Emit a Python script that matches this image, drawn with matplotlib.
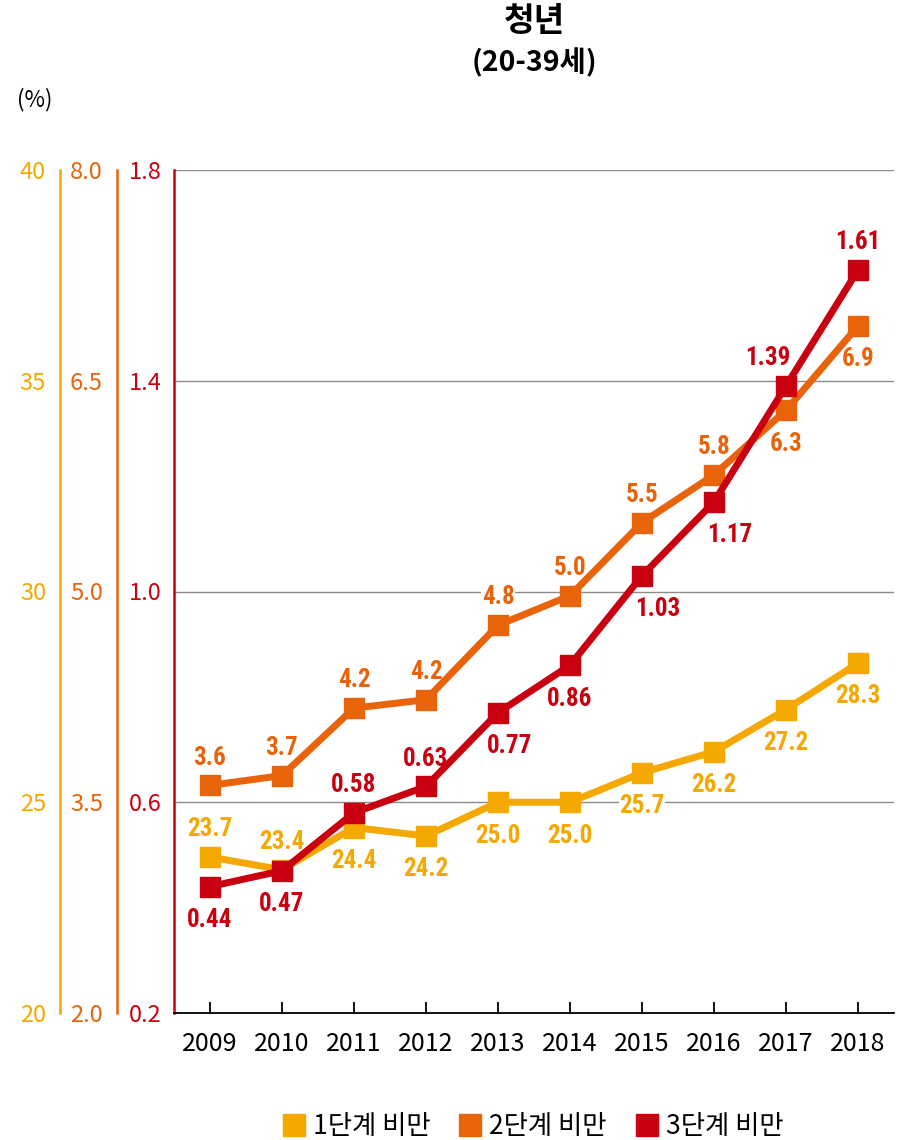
import matplotlib
matplotlib.use('Agg')
import matplotlib.pyplot as plt
from matplotlib.lines import Line2D
from matplotlib import font_manager

plt.rcParams['font.family'] = ['Noto Sans CJK KR', 'DejaVu Sans']

years = ['2009', '2010', '2011', '2012', '2013', '2014', '2015', '2016', '2017', '2018']
stage1 = [23.7, 23.4, 24.4, 24.2, 25.0, 25.0, 25.7, 26.2, 27.2, 28.3]
stage2 = [3.62, 3.69, 4.17, 4.23, 4.76, 4.97, 5.49, 5.83, 6.29, 6.89]
stage3 = [0.44, 0.47, 0.58, 0.63, 0.77, 0.86, 1.03, 1.17, 1.39, 1.61]
series_names = ['1단계 비만', '2단계 비만', '3단계 비만']
ticks1 = [20, 25, 30, 35, 40]
ticks2 = [2.0, 3.5, 5.0, 6.5, 8.0]
ticks3 = [0.2, 0.6, 1.0, 1.4, 1.8]

# label placement: +1 above, -1 below; horizontal nudges in points
pos1 = [1, 1, -1, -1, -1, -1, -1, -1, -1, -1]
pos2 = [1, 1, 1, 1, 1, 1, 1, 1, -1, -1]
pos3 = [-1, -1, 1, 1, -1, -1, -1, -1, 1, 1]
dx1 = [0] * 10
dx2 = [0] * 10
dx3 = [0, 0, 0, 0, 8.5, 0, 11, 11.5, -13.5, 0]

C1 = '#F5A800'
C2 = '#E8630A'
C3 = '#C8000F'

# pick a condensed bold font for the value labels if one is installed
cond_path = None
cands = []
for f in font_manager.fontManager.ttflist:
    n = (f.name + ' ' + f.fname).lower()
    if ('narrow' in n or 'condensed' in n) and (str(f.weight) in ('bold', '700') or 'bold' in f.fname.lower()):
        cands.append(f)
pref = ['liberation sans narrow', 'roboto condensed', 'dejavu sans', 'open sans']
cands.sort(key=lambda f: next((i for i, p in enumerate(pref) if p in f.name.lower()), 99))
if cands:
    cond_path = cands[0].fname

if cond_path:
    lab_font = dict(fontproperties=font_manager.FontProperties(fname=cond_path, size=18))
else:
    lab_font = dict(family=['DejaVu Sans'], fontstretch='condensed', fontweight='bold', fontsize=17)

fig = plt.figure(figsize=(8.99, 11.4), dpi=100)
ax = fig.add_axes([174/899, 127/1140, 720/899, 843/1140])
x = list(range(len(years)))

ax.set_xlim(-0.5, len(years) - 0.5)
ax.set_ylim(ticks3[0], ticks3[-1])
ax.set_yticks(ticks3)
ax.set_yticklabels([f'{t:.1f}' for t in ticks3])
ax.tick_params(axis='y', length=0, pad=9, labelsize=17, labelcolor=C3)
ax.set_xticks(x)
ax.set_xticklabels(years)
ax.tick_params(axis='x', direction='in', length=8, width=1.3, pad=13, color='black', labelsize=18)
ax.grid(axis='y', color='#8c8c8c', linewidth=1)
ax.set_axisbelow(True)
for s in ['top', 'right']:
    ax.spines[s].set_visible(False)
ax.spines['left'].set_color(C3)
ax.spines['left'].set_linewidth(1.8)
ax.spines['bottom'].set_color('black')
ax.spines['bottom'].set_linewidth(1.3)
ax.spines['bottom'].set_zorder(5)


def make_twin(lim, ticks, color, offset, fmt):
    t = ax.twinx()
    t.set_ylim(lim)
    t.yaxis.set_ticks_position('left')
    t.yaxis.set_label_position('left')
    for s in ['top', 'right', 'bottom']:
        t.spines[s].set_visible(False)
    if offset is None:
        t.spines['left'].set_visible(False)
        t.set_yticks([])
    else:
        t.set_yticks(ticks)
        t.set_yticklabels([fmt.format(v) for v in ticks])
        t.tick_params(axis='y', which='both', length=0, pad=10, labelsize=17,
                      labelcolor=color, left=True, labelleft=True, right=False, labelright=False)
        t.spines['left'].set_position(('axes', offset))
        t.spines['left'].set_color(color)
        t.spines['left'].set_linewidth(1.8)
    return t

ax1 = make_twin((20, 40), ticks1, C1, (60 - 174) / 720, '{:.0f}')
ax2 = make_twin((2.0, 8.0), ticks2, C2, (117 - 174) / 720, '{:.1f}')
ax3 = make_twin((0.2, 1.8), ticks3, C3, None, '{:.1f}')

for a, vals, col, pos, dxs, fmt in [(ax1, stage1, C1, pos1, dx1, '{:.1f}'),
                                    (ax2, stage2, C2, pos2, dx2, '{:.1f}'),
                                    (ax3, stage3, C3, pos3, dx3, '{:.2f}')]:
    a.plot(x, vals, color=col, linewidth=5, marker='s', markersize=14.5,
           solid_joinstyle='miter', clip_on=False, zorder=2)
    for xi, v, p, d in zip(x, vals, pos, dxs):
        dy = 20 if p > 0 else -24
        a.annotate(fmt.format(v), (xi, v), xytext=(d, dy), textcoords='offset points',
                   ha='center', va='center', color=col, zorder=1,
                   bbox=dict(facecolor='white', edgecolor='none', pad=0.5), **lab_font)

fig.text(0.594, 1 - 22/1140, '청년', ha='center', va='center', fontsize=24, fontweight='bold')
fig.text(0.594, 1 - 63/1140, '(20-39세)', ha='center', va='center', fontsize=20.5, fontweight='bold')
fig.text(35/899, 1 - 100/1140, '(%)', ha='center', va='center', fontsize=16)

handles = [Line2D([], [], marker='s', linestyle='none', markersize=16, color=c) for c in (C1, C2, C3)]
fig.legend(handles, series_names, loc='center', bbox_to_anchor=(532/899, 1 - 1127/1140), ncol=3,
           frameon=False, fontsize=19, handletextpad=0.23, columnspacing=1.0, handlelength=1.0,
           borderaxespad=0, borderpad=0)

fig.savefig('out.png', dpi=100)
